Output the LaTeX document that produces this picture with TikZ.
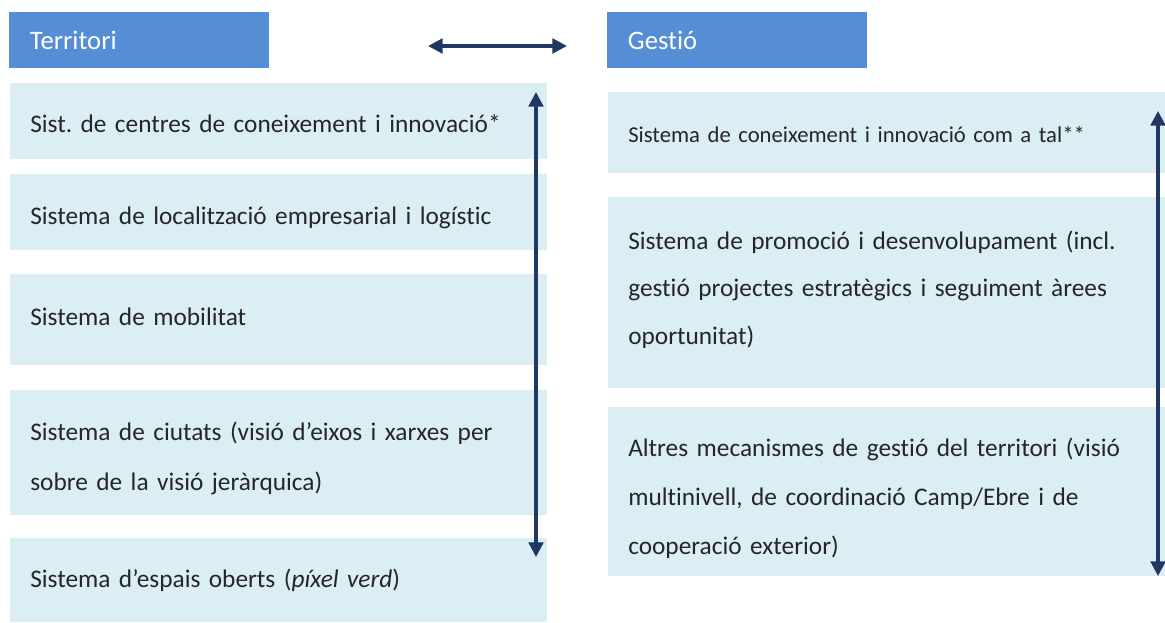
\documentclass[tikz,border=0pt]{standalone}
\usepackage{fontspec}
\setmainfont{Carlito}[Ligatures=NoCommon]
\usetikzlibrary{arrows.meta}
\definecolor{capblau}{HTML}{558ED5}
\definecolor{caixablau}{HTML}{DAEEF3}
\definecolor{fletxablau}{HTML}{1F3864}
\newcommand\altura{\rule{0pt}{30pt}}
\newcommand\fons[1]{\rule[-#1]{0pt}{#1}}
\begin{document}
\frenchspacing
\begin{tikzpicture}[x=0.75pt,y=-0.75pt,line join=round,
    >={Triangle[length=11pt,width=11pt]},
    font=\fontsize{19}{36.5}\selectfont,
    capcal/.style={fill=capblau,text=white,anchor=north west,inner xsep=15.5pt,inner ysep=0pt,
        minimum height=42pt,text width=164pt,align=left,font=\fontsize{20}{24}\selectfont},
    caixa/.style={fill=caixablau,text=black!85,anchor=north west,inner xsep=15pt,inner ysep=0pt,align=left},
    esq/.style={caixa,text width=372.75pt},
    dre/.style={caixa,text width=387.75pt},
    fletxa/.style={draw=fletxablau,line width=2.4pt,<->}]
    \useasboundingbox (0,0) rectangle (1165,623);
    \node[capcal] (terr) at (9,12) {Territori};
    \node[capcal] (gest) at (607,12) {Gestió};
    \node[esq,minimum height=57pt] (t1) at (10,83) {\altura Sist. de centres de coneixement i innovació*\fons{13.5pt}};
    \node[esq,minimum height=57pt] (t2) at (10,174) {\altura Sistema de localització empresarial i logístic\fons{12pt}};
    \node[esq,minimum height=68.25pt] (t3) at (10,274) {\altura Sistema de mobilitat\fons{21.75pt}};
    \node[esq,minimum height=93.75pt,font=\fontsize{19}{37.5}\selectfont] (t4) at (10,390) {\altura Sistema de ciutats (visió d’eixos i xarxes per\\sobre de la visió jeràrquica)\fons{11.25pt}};
    \node[esq,minimum height=63pt] (t5) at (10,538) {\altura Sistema d’espais oberts (\emph{píxel verd})\fons{19.5pt}};
    \node[dre,minimum height=60.75pt,font=\fontsize{17}{36.5}\selectfont] (g1) at (608,92) {\altura Sistema de coneixement i innovació com a tal**\fons{15.75pt}};
    \node[dre,minimum height=143.25pt,font=\fontsize{19}{35.6}\selectfont] (g2) at (608,197) {\altura Sistema de promoció i desenvolupament (incl.\\gestió projectes estratègics i seguiment àrees\\oportunitat)\fons{24pt}};
    \node[dre,minimum height=126.75pt,font=\fontsize{19}{36.75}\selectfont] (g3) at (608,407) {\altura Altres mecanismes de gestió del territori (visió\\multinivell, de coordinació Camp/Ebre i de\\cooperació exterior)\fons{9.75pt}};
    \coordinate (a1) at (428,46);
    \coordinate (a2) at (567,46);
    \coordinate (b1) at (536,92);
    \coordinate (b2) at (536,557);
    \coordinate (c1) at (1158,111);
    \coordinate (c2) at (1158,576);
    \draw[fletxa] (a1) -- (a2);
    \draw[fletxa] (b1) -- (b2);
    \draw[fletxa] (c1) -- (c2);
\end{tikzpicture}
\end{document}
